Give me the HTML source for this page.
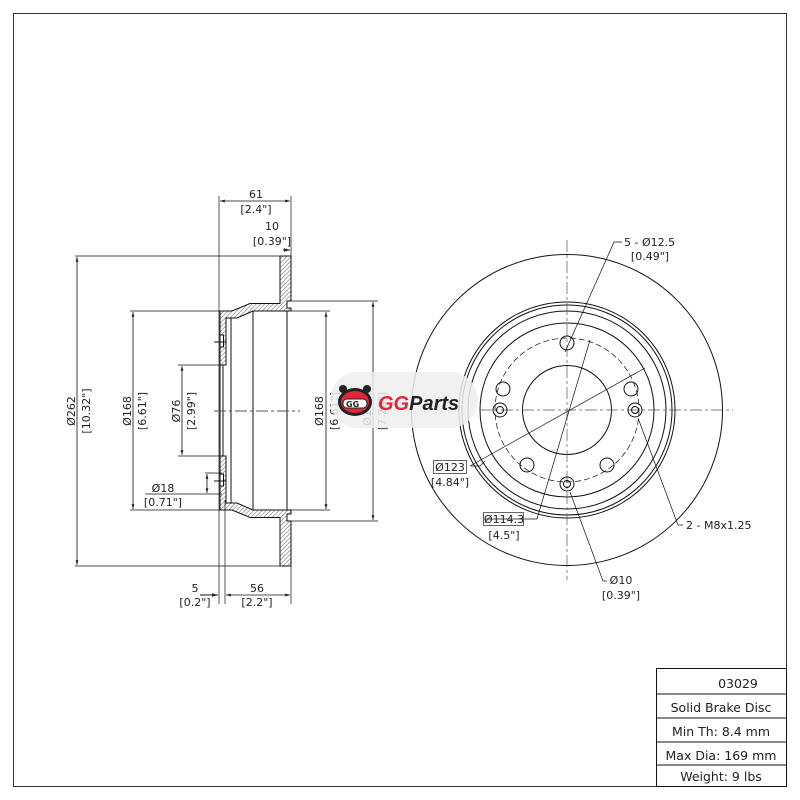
<!DOCTYPE html>
<html><head><meta charset="utf-8"><style>
html,body{margin:0;padding:0;background:#fff;}
svg{display:block;}
text{font-family:"DejaVu Sans","Liberation Sans",sans-serif;fill:#222;font-size:11px;}
</style></head><body>
<svg width="800" height="800" viewBox="0 0 800 800" xmlns="http://www.w3.org/2000/svg">
<defs>
<pattern id="h" width="3" height="3" patternUnits="userSpaceOnUse" patternTransform="rotate(45)">
<rect width="3" height="3" fill="#fff"/><line x1="0" y1="0" x2="0" y2="3" stroke="#333" stroke-width="0.8"/></pattern>
<marker id="a" viewBox="0 0 10 10" refX="10" refY="5" markerWidth="6" markerHeight="6" orient="auto-start-reverse"><path d="M0,2 L10,5 L0,8z" fill="#222"/></marker>
</defs>
<rect x="13.5" y="13.5" width="773" height="773" fill="none" stroke="#333" stroke-width="1"/>
<g stroke="#111" stroke-width="1" fill="none">
<path d="M220,311 L232,311 L250,303.5 L280,303.5 L280,256 L291,256 L291,301 L287,301 L287,308 L291,308 L291,311 L253,311 L237,318 L226,318 L226,365 L220,365Z" fill="url(#h)"/>
<path d="M220,510 L232,510 L250,517.5 L280,517.5 L280,566 L291,566 L291,521 L287,521 L287,514 L291,514 L291,510 L253,510 L237,503 L226,503 L226,456 L220,456Z" fill="url(#h)"/>
<rect x="220" y="335" width="3.5" height="12" fill="#fff"/>
<rect x="220" y="474" width="3.5" height="12" fill="#fff"/>
<line x1="220" y1="365" x2="220" y2="456"/>
<line x1="223" y1="365" x2="223" y2="456"/>
<line x1="231" y1="318" x2="231" y2="503"/>
<line x1="253" y1="311" x2="253" y2="510"/>
<line x1="287" y1="311" x2="287" y2="510"/>
<line x1="214" y1="342" x2="226" y2="342"/>
<line x1="214" y1="481" x2="226" y2="481"/>
<g stroke-width="0.7">
<line x1="219" y1="196" x2="219" y2="604"/><line x1="225" y1="500" x2="225" y2="604"/>
<line x1="291" y1="196" x2="291" y2="256"/><line x1="291" y1="566" x2="291" y2="604"/>
<line x1="75" y1="256" x2="285" y2="256"/><line x1="75" y1="566" x2="285" y2="566"/>
<line x1="130" y1="311" x2="225" y2="311"/><line x1="130" y1="510" x2="225" y2="510"/>
<line x1="178" y1="365" x2="222" y2="365"/><line x1="178" y1="456" x2="222" y2="456"/>
<line x1="205" y1="473" x2="222" y2="473"/><line x1="145" y1="494" x2="222" y2="494"/>
<line x1="287" y1="311" x2="330" y2="311"/><line x1="287" y1="510" x2="330" y2="510"/>
<line x1="291" y1="301" x2="378" y2="301"/><line x1="291" y1="521" x2="378" y2="521"/>
</g>
<g stroke-width="0.8" marker-start="url(#a)" marker-end="url(#a)">
<line x1="77" y1="257" x2="77" y2="565"/>
<line x1="133" y1="312" x2="133" y2="509"/>
<line x1="182" y1="366" x2="182" y2="455"/>
<line x1="326" y1="312" x2="326" y2="509"/>
<line x1="373" y1="302" x2="373" y2="520"/>
<line x1="220" y1="201" x2="290" y2="201"/>
<line x1="226" y1="595" x2="290" y2="595"/>
<line x1="207" y1="474" x2="207" y2="493"/>
</g>
<line x1="283" y1="250" x2="290" y2="250" marker-end="url(#a)"/>
<line x1="200" y1="595" x2="218" y2="595" marker-end="url(#a)"/>
<line x1="214" y1="411" x2="300" y2="411" stroke="#555" stroke-dasharray="12,3,3,3"/>
<circle cx="567" cy="410" r="155.5"/>
<circle cx="567" cy="410" r="108"/>
<circle cx="567" cy="410" r="105"/>
<circle cx="567" cy="410" r="99"/>
<circle cx="567" cy="410" r="87"/>
<circle cx="567" cy="410" r="44.5"/>
<circle cx="567" cy="410" r="72" stroke-dasharray="6,3" stroke-width="0.7"/>
<line x1="567" y1="240" x2="567" y2="580" stroke="#555" stroke-dasharray="12,3,3,3" stroke-width="0.7"/>
<line x1="480" y1="410" x2="733" y2="410" stroke="#555" stroke-dasharray="12,3,3,3" stroke-width="0.7"/>
<circle cx="567" cy="343" r="7"/>
<circle cx="503" cy="389" r="7"/>
<circle cx="631" cy="389" r="7"/>
<circle cx="527" cy="465" r="7"/>
<circle cx="607" cy="465" r="7"/>
<circle cx="500" cy="410" r="7"/><circle cx="500" cy="410" r="3.5"/>
<circle cx="635" cy="410" r="7"/><circle cx="635" cy="410" r="3.5"/>
<circle cx="567" cy="484" r="7"/><circle cx="567" cy="484" r="3.5"/>
<g stroke-width="0.7">
<polyline points="622,242 614,242 565,352"/>
<line x1="470" y1="466" x2="645" y2="368"/>
<polyline points="485,519 537,519 590,340"/>
<polyline points="471,466 480,466 485,461"/>
<polyline points="683,525 678,525 638,418"/>
<polyline points="607,581 603,581 570,492"/>
</g>
<rect x="433.5" y="460.5" width="33" height="13" stroke="#666"/>
<rect x="483.5" y="512.5" width="40" height="13" stroke="#666"/>
<rect x="656.5" y="668.5" width="130" height="118"/>
<line x1="656" y1="694" x2="786" y2="694"/>
<line x1="656" y1="718" x2="786" y2="718"/>
<line x1="656" y1="742" x2="786" y2="742"/>
<line x1="656" y1="765" x2="786" y2="765"/>
</g>
<text x="256" y="198" text-anchor="middle">61</text>
<text x="256" y="213" text-anchor="middle">[2.4"]</text>
<text x="272" y="230" text-anchor="middle">10</text>
<text x="272" y="245" text-anchor="middle">[0.39"]</text>
<text x="195" y="592" text-anchor="middle">5</text>
<text x="195" y="606" text-anchor="middle">[0.2"]</text>
<text x="257" y="592" text-anchor="middle">56</text>
<text x="257" y="606" text-anchor="middle">[2.2"]</text>
<text x="163" y="492" text-anchor="middle">Ø18</text>
<text x="163" y="506" text-anchor="middle">[0.71"]</text>
<text transform="translate(75,411) rotate(-90)" text-anchor="middle">Ø262</text>
<text transform="translate(90,411) rotate(-90)" text-anchor="middle">[10.32"]</text>
<text transform="translate(131,411) rotate(-90)" text-anchor="middle">Ø168</text>
<text transform="translate(146,411) rotate(-90)" text-anchor="middle">[6.61"]</text>
<text transform="translate(180,411) rotate(-90)" text-anchor="middle">Ø76</text>
<text transform="translate(195,411) rotate(-90)" text-anchor="middle">[2.99"]</text>
<text transform="translate(323,411) rotate(-90)" text-anchor="middle">Ø168</text>
<text transform="translate(338,411) rotate(-90)" text-anchor="middle">[6.61"]</text>
<text transform="translate(371,411) rotate(-90)" text-anchor="middle">Ø185</text>
<text transform="translate(386,411) rotate(-90)" text-anchor="middle">[7.28"]</text>
<text x="624" y="246">5 - Ø12.5</text>
<text x="650" y="260" text-anchor="middle">[0.49"]</text>
<text x="450" y="471" text-anchor="middle">Ø123</text>
<text x="450" y="486" text-anchor="middle">[4.84"]</text>
<text x="504" y="523" text-anchor="middle">Ø114.3</text>
<text x="504" y="539" text-anchor="middle">[4.5"]</text>
<text x="686" y="529">2 - M8x1.25</text>
<text x="621" y="584" text-anchor="middle">Ø10</text>
<text x="621" y="599" text-anchor="middle">[0.39"]</text>
<text x="738" y="688" text-anchor="middle" style="font-size:12.5px">03029</text>
<text x="721" y="712" text-anchor="middle" style="font-size:12.5px">Solid Brake Disc</text>
<text x="721" y="736" text-anchor="middle" style="font-size:12.5px">Min Th: 8.4 mm</text>
<text x="721" y="760" text-anchor="middle" style="font-size:12.5px">Max Dia: 169 mm</text>
<text x="721" y="781" text-anchor="middle" style="font-size:12.5px">Weight: 9 lbs</text>
<rect x="330" y="372" width="148" height="56" rx="28" fill="#eee" opacity="0.85"/>
<g>
<circle cx="343" cy="389" r="4" fill="#222"/><circle cx="367" cy="389" r="4" fill="#222"/>
<ellipse cx="355" cy="402" rx="17" ry="14" fill="#222"/>
<ellipse cx="355" cy="402" rx="14" ry="11" fill="#e0283a"/>
<rect x="343" y="399" width="24" height="9" rx="4" fill="#fff" stroke="#222"/>
<text x="346" y="407" style="font-size:8px;font-weight:bold;fill:#222">GG</text>
</g>
<text x="378" y="410" style="font-family:'Liberation Sans',sans-serif;font-size:20px;font-weight:bold;font-style:italic;fill:#e0283a">GG<tspan style="fill:#222">Parts</tspan></text>
</svg>
</body></html>
